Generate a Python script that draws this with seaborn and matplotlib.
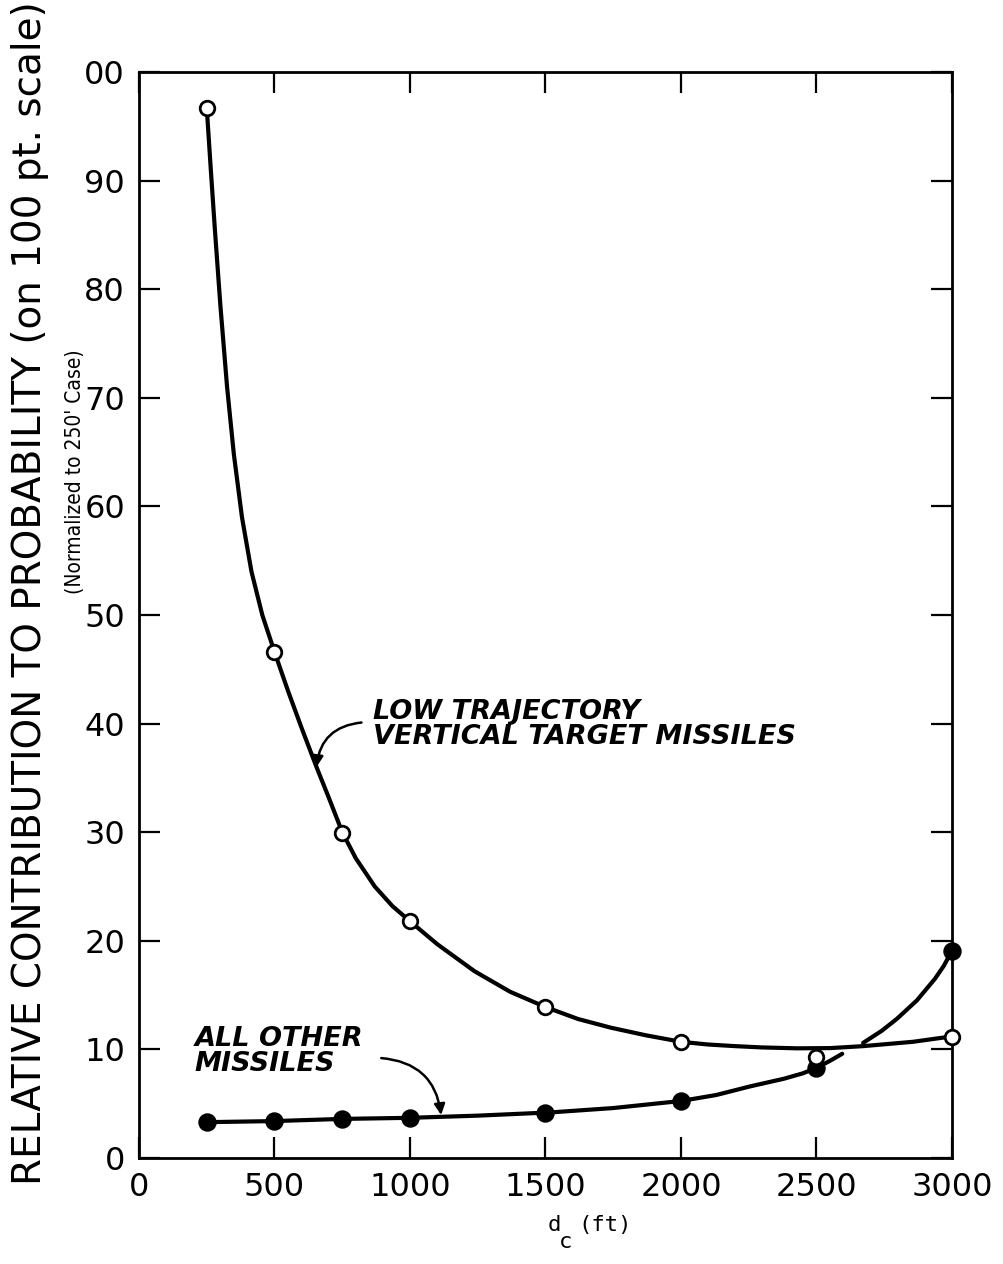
import matplotlib
matplotlib.use("Agg")
import matplotlib.pyplot as plt
import seaborn as sns
import pandas as pd

# Computed cases: distance d_c (ft) and relative contribution (100 pt scale)
dc_ft = [250, 500, 750, 1000, 1500, 2000, 2500, 3000]
low_traj = [96.7, 46.6, 29.9, 21.8, 13.9, 10.7, 9.3, 11.1]
all_other = [3.3, 3.4, 3.6, 3.7, 4.15, 5.25, 8.3, 19.1]

# Faired curve through the low trajectory cases
low_curve_x = [250, 265, 280, 300, 325, 350, 380, 415, 455, 500, 550, 600, 655,
               700, 750, 800, 870, 935, 1000, 1100, 1238, 1370, 1500, 1620, 1741,
               1870, 2000, 2100, 2200, 2300, 2428, 2550, 2672, 2856, 3000]
low_curve_y = [96.7, 91.0, 85.5, 78.6, 71.0, 64.8, 59.0, 54.0, 50.0, 46.6, 43.0,
               39.6, 36.0, 33.2, 30.0, 27.6, 25.0, 23.2, 21.8, 19.7, 17.2, 15.3,
               13.9, 12.8, 12.0, 11.3, 10.7, 10.45, 10.3, 10.18, 10.1, 10.12,
               10.3, 10.7, 11.2]

# Faired curve through the other cases, broken where it crosses the first one
other_low_x = [250, 500, 750, 1000, 1250, 1520, 1750, 2000, 2130, 2256, 2380,
               2450, 2500, 2550, 2595]
other_low_y = [3.3, 3.4, 3.6, 3.7, 3.9, 4.2, 4.6, 5.25, 5.8, 6.6, 7.3, 7.8, 8.3,
               8.95, 9.6]
other_up_x = [2672, 2740, 2796, 2870, 2937, 2970, 3000]
other_up_y = [10.6, 11.7, 12.8, 14.5, 16.5, 17.7, 19.1]

x_ticks = [0, 500, 1000, 1500, 2000, 2500, 3000]
x_tick_labels = ["0", "500", "1000", "1500", "2000", "2500", "3000"]
y_ticks = [0, 10, 20, 30, 40, 50, 60, 70, 80, 90, 100]
y_tick_labels = ["0", "10", "20", "30", "40", "50", "60", "70", "80", "90", "00"]

sns.set_style("ticks")
plt.rcParams["font.family"] = ["DejaVu Sans"]
plt.rcParams["text.color"] = "black"
plt.rcParams["axes.labelcolor"] = "black"

fig = plt.figure(figsize=(10.04, 12.64), dpi=100)
ax = fig.add_axes([139 / 1004, 1 - 1158 / 1264, (952 - 139) / 1004, (1158 - 72) / 1264])

lw = 3.0
sns.lineplot(x=low_curve_x, y=low_curve_y, sort=False, color="black", lw=lw, ax=ax)
sns.lineplot(x=other_low_x, y=other_low_y, sort=False, color="black", lw=lw, ax=ax)
sns.lineplot(x=other_up_x, y=other_up_y, sort=False, color="black", lw=lw, ax=ax)

pts = pd.DataFrame({"dc": dc_ft, "low": low_traj, "other": all_other})
sns.scatterplot(data=pts, x="dc", y="other", s=150, color="black",
                edgecolor="black", linewidth=1, ax=ax, zorder=5, clip_on=False)
sns.scatterplot(data=pts, x="dc", y="low", s=110, facecolor="white",
                edgecolor="black", linewidth=2, ax=ax, zorder=6, clip_on=False)

ax.set_xlim(0, 3000)
ax.set_ylim(0, 100)
ax.set_xticks(x_ticks)
ax.set_xticklabels(x_tick_labels)
ax.set_yticks(y_ticks)
ax.set_yticklabels(y_tick_labels)
ax.tick_params(direction="in", length=15, width=1.6, labelsize=23, pad=10,
               top=True, right=True, colors="black")
for s in ax.spines.values():
    s.set_visible(True)
    s.set_linewidth(2.0)
    s.set_color("black")
ax.set_xlabel("")
ax.set_ylabel("")

# Axis titles
ax.text(-0.134, 0.52, "RELATIVE CONTRIBUTION TO PROBABILITY (on 100 pt. scale)",
        transform=ax.transAxes, rotation=90, ha="center", va="center",
        fontsize=28)
ax.text(-0.079, 0.632, "(Normalized to 250' Case)", transform=ax.transAxes,
        rotation=90, ha="center", va="center", fontsize=15,
        family="DejaVu Sans", fontstretch="condensed")
ax.text(0.503, -0.062, "d", transform=ax.transAxes, ha="left", va="center",
        fontsize=16, family="DejaVu Sans Mono")
ax.text(0.516, -0.077, "c", transform=ax.transAxes, ha="left", va="center",
        fontsize=16, family="DejaVu Sans Mono")
ax.text(0.540, -0.062, "(ft)", transform=ax.transAxes, ha="left", va="center",
        fontsize=16, family="DejaVu Sans Mono")

# Curve annotations
ax.text(865, 39.9, "LOW TRAJECTORY\nVERTICAL TARGET MISSILES", ha="left",
        va="center", fontsize=19.5, style="italic", weight="bold",
        linespacing=0.95)
ax.annotate("", xy=(655, 36.0), xytext=(821, 40.1),
            arrowprops=dict(arrowstyle="-|>", color="black", lw=1.8,
                            connectionstyle="arc3,rad=0.4", mutation_scale=16,
                            shrinkA=0, shrinkB=0))
ax.text(206, 9.8, "ALL OTHER\nMISSILES", ha="left", va="center", fontsize=19.5,
        style="italic", weight="bold", linespacing=0.95)
ax.annotate("", xy=(1115, 3.96), xytext=(894, 9.2),
            arrowprops=dict(arrowstyle="-|>", color="black", lw=1.8,
                            connectionstyle="arc3,rad=-0.4", mutation_scale=16,
                            shrinkA=0, shrinkB=0))

fig.savefig("out.png", dpi=100)
